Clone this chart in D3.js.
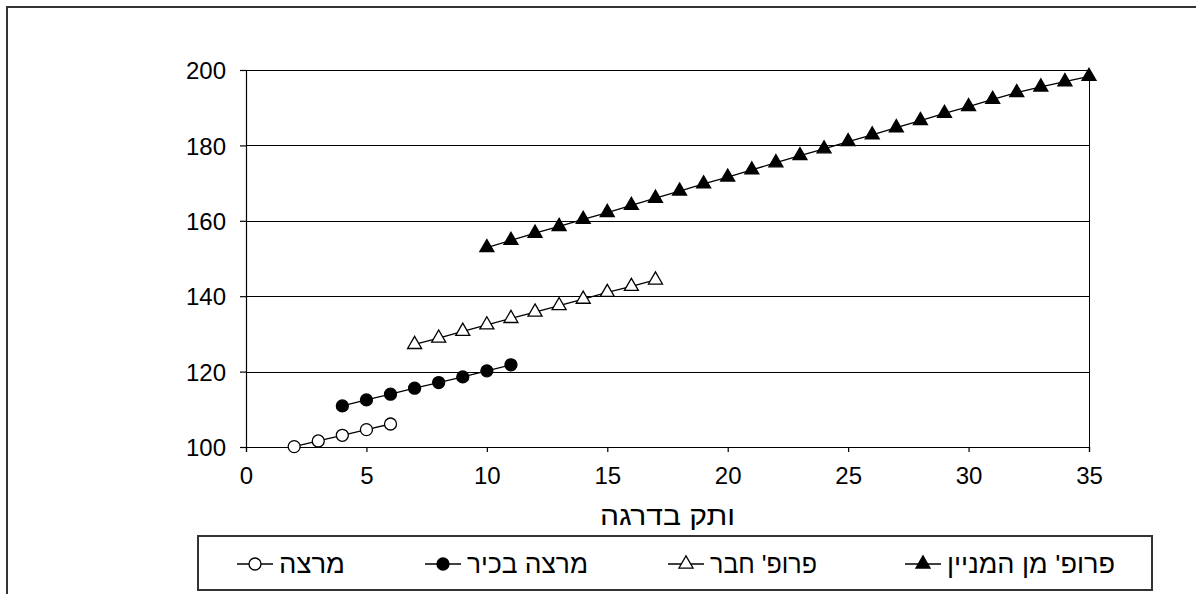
<!DOCTYPE html>
<html>
<head>
<meta charset="utf-8">
<script src="https://cdn.jsdelivr.net/npm/d3@7"></script>
<style>
  html, body { margin: 0; padding: 0; background: #fff; }
  svg { display: block; font-family: "Liberation Sans", Arial, sans-serif; }
</style>
</head>
<body>
<svg id="chart" width="1196" height="594"></svg>
<script>
// series names (legend order)
var seriesNames = ["מרצה", "מרצה בכיר", "פרופ' חבר", "פרופ' מן המניין"];

// x = seniority in rank, y = values
var lecturerX = [2, 3, 4, 5, 6];
var lecturerY = [100.1, 101.6, 103.1, 104.6, 106.1];

var seniorX = [4, 5, 6, 7, 8, 9, 10, 11];
var seniorY = [110.9, 112.5, 114.0, 115.6, 117.1, 118.6, 120.2, 121.8];

var assocX = [7, 8, 9, 10, 11, 12, 13, 14, 15, 16, 17];
var assocY = [127.2, 128.9, 130.7, 132.4, 134.1, 135.8, 137.5, 139.2, 141.0, 142.6, 144.3];

var fullX = [10, 11, 12, 13, 14, 15, 16, 17, 18, 19, 20, 21, 22, 23, 24, 25, 26, 27, 28, 29, 30, 31, 32, 33, 34, 35];
var fullY = [152.9, 154.8, 156.7, 158.5, 160.4, 162.2, 164.1, 166.0, 167.9, 169.8, 171.6, 173.5, 175.4, 177.3,
             179.1, 181.0, 182.8, 184.7, 186.6, 188.5, 190.3, 192.2, 194.0, 195.5, 196.9, 198.3];

var xTicks = [0, 5, 10, 15, 20, 25, 30, 35];
var yTicks = [100, 120, 140, 160, 180, 200];

var xTitle = "ותק בדרגה";

var svg = d3.select("#chart");

// outer chart frame
svg.append("path")
  .attr("d", "M7,594 L7,7 L1196,7")
  .attr("fill", "none")
  .attr("stroke", "#333")
  .attr("stroke-width", 2);

var margin = {top: 70, right: 107, bottom: 147, left: 246},
  width = 1196 - margin.left - margin.right,
  height = 594 - margin.top - margin.bottom;

var x = d3.scaleLinear().domain([0, 35]).range([0, width]);
var y = d3.scaleLinear().domain([100, 200]).range([height, 0]);

var g = svg.append("g")
  .attr("transform", "translate(" + margin.left + "," + margin.top + ")");

// gridlines
g.append("g")
  .selectAll("line")
  .data(yTicks)
  .enter().append("line")
  .attr("x1", 0).attr("x2", width)
  .attr("y1", function(d) { return Math.round(y(d)) + 0.5; })
  .attr("y2", function(d) { return Math.round(y(d)) + 0.5; })
  .attr("stroke", "#000")
  .attr("stroke-width", 1);

// right border of plot area
g.append("line")
  .attr("x1", width + 0.5).attr("x2", width + 0.5)
  .attr("y1", 0).attr("y2", height)
  .attr("stroke", "#000");

// axes
var xAxis = g.append("g")
  .attr("transform", "translate(0," + height + ")")
  .call(d3.axisBottom(x).tickValues(xTicks).tickSize(5).tickPadding(15));
var yAxis = g.append("g")
  .call(d3.axisLeft(y).tickValues(yTicks).tickSize(6).tickPadding(14));

[xAxis, yAxis].forEach(function(a) {
  a.selectAll("path, line").attr("stroke", "#000").attr("stroke-width", 1.2);
  a.selectAll("text").attr("fill", "#000").style("font-size", "24px")
    .style("font-family", "Liberation Sans, Arial, sans-serif");
});
xAxis.selectAll("text").attr("dy", "0.72em");
yAxis.selectAll("text").attr("dy", "0.36em");

// x axis title
svg.append("text")
  .attr("x", 600)
  .attr("y", 525)
  .attr("textLength", 135)
  .attr("lengthAdjust", "spacingAndGlyphs")
  .style("font-size", "27px")
  .text(xTitle);

// marker helpers
var tri = d3.symbol().type(d3.symbolTriangle).size(85);
function drawMarker(sel, kind) {
  if (kind === "circleOpen" || kind === "circleFull") {
    sel.append("circle").attr("r", 6)
      .attr("fill", kind === "circleFull" ? "#000" : "#fff")
      .attr("stroke", "#000").attr("stroke-width", 1.3);
  } else {
    sel.append("path").attr("d", tri)
      .attr("fill", kind === "triFull" ? "#000" : "#fff")
      .attr("stroke", "#000").attr("stroke-width", 1.3);
  }
}

var series = [
  {name: seriesNames[0], xs: lecturerX, ys: lecturerY, marker: "circleOpen"},
  {name: seriesNames[1], xs: seniorX, ys: seniorY, marker: "circleFull"},
  {name: seriesNames[2], xs: assocX, ys: assocY, marker: "triOpen"},
  {name: seriesNames[3], xs: fullX, ys: fullY, marker: "triFull"}
];

var line = d3.line()
  .x(function(d) { return x(d[0]); })
  .y(function(d) { return y(d[1]); });

series.forEach(function(s) {
  var pts = s.xs.map(function(v, i) { return [v, s.ys[i]]; });
  g.append("path")
    .datum(pts)
    .attr("d", line)
    .attr("fill", "none")
    .attr("stroke", "#000")
    .attr("stroke-width", 1.3);
  g.selectAll(null)
    .data(pts)
    .enter().append("g")
    .attr("transform", function(d) { return "translate(" + x(d[0]) + "," + y(d[1]) + ")"; })
    .each(function() { drawMarker(d3.select(this), s.marker); });
});

// legend
var legend = svg.append("g");
legend.append("rect")
  .attr("x", 198).attr("y", 536)
  .attr("width", 954).attr("height", 54)
  .attr("fill", "#fff")
  .attr("stroke", "#333")
  .attr("stroke-width", 2);

var legendTextX = [279, 467, 710, 947];
var legendTextW = [66, 121, 107, 168];
series.forEach(function(s, i) {
  var item = legend.append("g").attr("transform", "translate(" + (legendTextX[i] - 42) + ",564)");
  item.append("line").attr("x1", 0).attr("x2", 36)
    .attr("stroke", "#000").attr("stroke-width", 1.3);
  var m = item.append("g").attr("transform", "translate(18,0)");
  drawMarker(m, s.marker);
  item.append("text")
    .attr("x", 42)
    .attr("y", 9)
    .attr("textLength", legendTextW[i])
    .attr("lengthAdjust", "spacingAndGlyphs")
    .style("font-size", "26px")
    .text(s.name);
});
</script>
</body>
</html>
